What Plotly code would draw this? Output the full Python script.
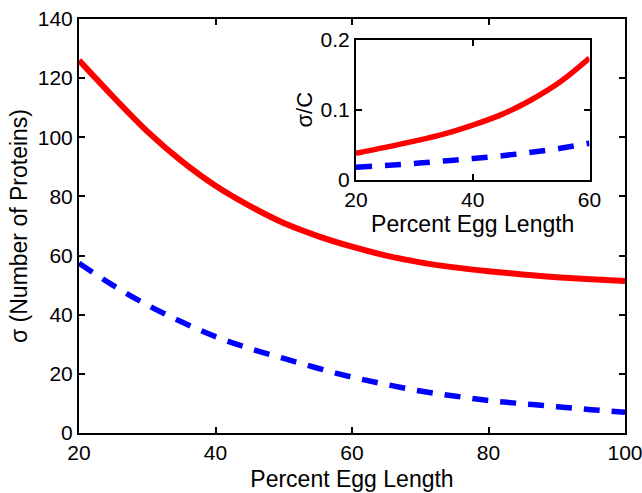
import plotly.graph_objects as go

# Main panel data
x_main = [20, 25, 30, 35, 40, 45, 50, 55, 60, 65, 70, 75, 80, 85, 90, 95, 100]
red_main = [126, 113.7, 102, 92, 83.6, 76.8, 71, 66.6, 63, 60, 57.7, 56, 54.7, 53.6, 52.7, 52, 51.4]
blue_main = [57.4, 49.9, 43.3, 37.6, 32.6, 28.6, 25.2, 21.9, 18.9, 16.4, 14.2, 12.5, 11, 9.9, 8.9, 7.9, 7]

# Inset data
x_inset = [20, 25, 30, 35, 40, 45, 50, 55, 60]
red_inset = [0.0376, 0.046, 0.055, 0.065, 0.078, 0.0934, 0.114, 0.140, 0.174]
blue_inset = [0.0175, 0.020, 0.023, 0.0265, 0.030, 0.034, 0.039, 0.0447, 0.052]

main_xticks = [20, 40, 60, 80, 100]
main_yticks = [0, 20, 40, 60, 80, 100, 120, 140]
inset_xticks = [20, 40, 60]
inset_yticks = [0, 0.1, 0.2]
inset_yticktext = ["0", "0.1", "0.2"]

RED = "#ff0000"
BLUE = "#0000ff"
FONT = "Liberation Sans"

fig = go.Figure()
fig.add_trace(go.Scatter(x=x_main, y=red_main, mode="lines", line=dict(color=RED, width=6, shape="spline"),
                         xaxis="x", yaxis="y", showlegend=False))
fig.add_trace(go.Scatter(x=x_main, y=blue_main, mode="lines",
                         line=dict(color=BLUE, width=5.5, shape="spline", dash="16px,12px"),
                         xaxis="x", yaxis="y", showlegend=False))
fig.add_trace(go.Scatter(x=x_inset, y=red_inset, mode="lines", line=dict(color=RED, width=5.5, shape="spline"),
                         xaxis="x2", yaxis="y2", showlegend=False))
fig.add_trace(go.Scatter(x=x_inset, y=blue_inset, mode="lines",
                         line=dict(color=BLUE, width=5.5, shape="spline", dash="16px,13px"),
                         xaxis="x2", yaxis="y2", showlegend=False))

W, H = 642, 493
L, R, T, B = 79, 625, 19, 433
axis_common = dict(showline=True, linecolor="black", linewidth=2, mirror="ticks",
                   ticks="inside", ticklen=6, tickwidth=2, tickcolor="black",
                   showgrid=False, zeroline=False, automargin=False,
                   ticklabeloverflow="allow",
                   tickfont=dict(family=FONT, size=21, color="black"))

# inset position in paper coords
iL, iR, iT, iB = 356, 589.5, 40, 179.5
ix0 = (iL - L) / (R - L)
ix1 = (iR - L) / (R - L)
iy0 = (B - iB) / (B - T)
iy1 = (B - iT) / (B - T)

fig.update_layout(
    width=W, height=H,
    margin=dict(l=L, r=W - R, t=T, b=H - B, autoexpand=False),
    paper_bgcolor="white", plot_bgcolor="white",
    font=dict(family=FONT, color="black"),
    xaxis=dict(range=[20, 100], tickvals=main_xticks, domain=[0, 1],
               title=dict(text="Percent Egg Length", font=dict(family=FONT, size=23), standoff=8),
               **axis_common),
    yaxis=dict(range=[0, 140], tickvals=main_yticks, domain=[0, 1],
               title=dict(text="σ (Number of Proteins)", font=dict(family=FONT, size=23), standoff=4),
               **axis_common),
    xaxis2=dict(range=[20, 60], tickvals=inset_xticks, domain=[ix0, ix1], anchor="y2",
                title=dict(text="Percent Egg Length", font=dict(family=FONT, size=23), standoff=4),
                **axis_common),
    yaxis2=dict(range=[0, 0.2], tickvals=inset_yticks, ticktext=inset_yticktext, domain=[iy0, iy1], anchor="x2",
                title=dict(text="σ/C", font=dict(family=FONT, size=22), standoff=2),
                **axis_common),
)

fig.write_html("out.html", config={"displayModeBar": False},
               post_script="document.body.style.margin='0';document.body.style.overflow='hidden';")
